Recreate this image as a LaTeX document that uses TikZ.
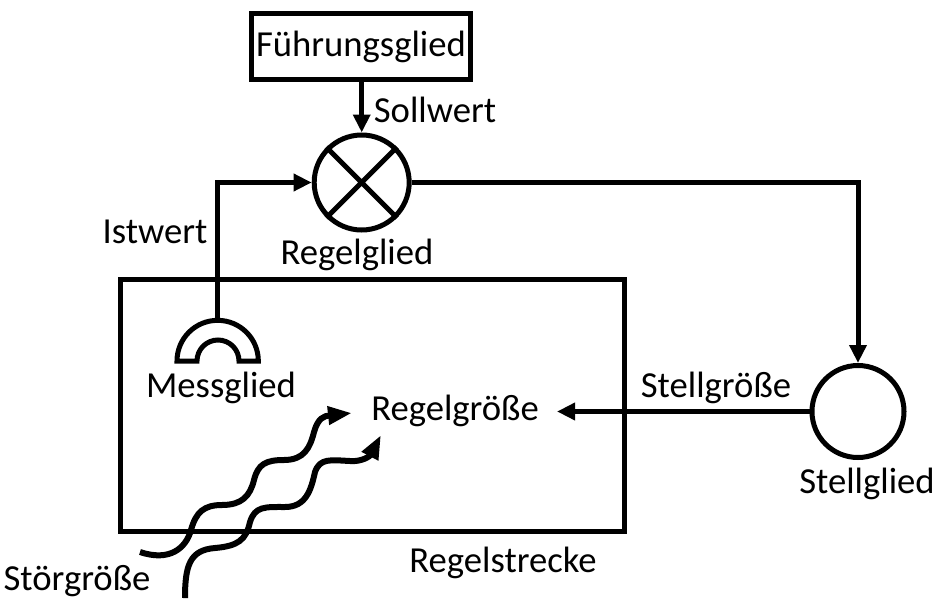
\documentclass[tikz,border=0pt]{standalone}
\usepackage{fontspec}
\setmainfont{Carlito}
\usetikzlibrary{arrows.meta}
\begin{document}
\begin{tikzpicture}[x=0.75pt,y=-0.75pt,
  every node/.style={font=\fontsize{27.5}{33}\selectfont, inner sep=0pt},
  ln/.style={line width=3.75pt},
  arr/.style={ln,-{Triangle[length=13.5pt,width=12.5pt]}},
  wav/.style={line width=4.5pt,-{Triangle[length=18pt,width=13pt]}},
]
\useasboundingbox (0,0) rectangle (935,600);

% blocks
\node[draw, ln, minimum width=164pt, minimum height=50pt] (fg) at (361,46.5) {Führungsglied};
\node[circle, draw, ln, minimum size=71.25pt] (rg) at (361.7,182.5) {};
\draw[ln] (rg.45) -- (rg.225) (rg.135) -- (rg.315);
\node[circle, draw, ln, minimum size=69pt] (sg) at (858,411.5) {};
\node[draw, ln, minimum width=378pt, minimum height=189pt] (rs) at (372,405) {};

% Messglied
\coordinate (mess) at (217,321);
\draw[ln, line join=miter] (177,361) arc[start angle=180, end angle=0, radius=30.5pt]
  -- (239,361) arc[start angle=0, end angle=180, radius=15.75pt] -- cycle;

% labels
\node (sollwert) at (435,110) {Sollwert};
\node (regelglied) at (357,255) {Regelglied};
\node (istwert) at (155,232) {Istwert};
\node (messglied) at (221,388) {Messglied};
\node (regelgr) at (455,411) {Regelgröße};
\node (stellgr) at (716,388) {Stellgröße};
\node (stellglied) at (867,484) {Stellglied};
\node (regelstrecke) at (503,563) {Regelstrecke};
\node (stoergr) at (77,581) {Störgröße};

% connectors
\coordinate (rgtip) at (557,411.5);
\draw[arr] (fg.south -| rg.north) -- (rg.north);
\draw[arr, line join=miter] (mess) |- (rg.west);
\draw[arr, line join=miter] (rg.east) -| (sg.north);
\draw[arr] (sg.west) -- (rgtip);

% disturbances
\coordinate (w1s) at (140,552);
\coordinate (w1e) at (352,413);
\coordinate (w2s) at (185,598);
\coordinate (w2e) at (381,435);
\draw[wav] (w1s) .. controls (170,562) and (186,548) .. (191,530)
  .. controls (196,512) and (204,505) .. (222,505)
  .. controls (242,505) and (250,496) .. (254,480)
  .. controls (258,464) and (266,460) .. (284,460)
  .. controls (304,460) and (310,448) .. (314,432)
  .. controls (318,418) and (324,416) .. (w1e);
\draw[wav] (w2s) .. controls (185,565) and (190,550) .. (215,548)
  .. controls (238,546) and (246,540) .. (250,522)
  .. controls (255,506) and (265,507) .. (285,507)
  .. controls (306,507) and (311,490) .. (315,472)
  .. controls (320,458) and (330,460) .. (350,461)
  .. controls (362,462) and (370,456) .. (w2e);
\end{tikzpicture}
\end{document}
